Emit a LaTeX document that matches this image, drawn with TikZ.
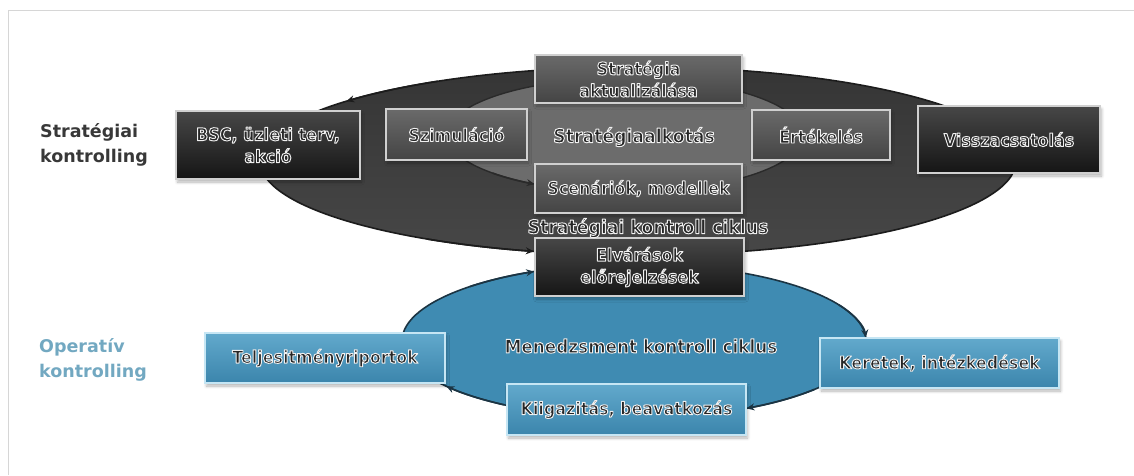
\documentclass[tikz,border=0pt]{standalone}
\usepackage{fontspec}
\setmainfont{DejaVu Sans}
\newfontfamily\boxfont{DejaVu Sans}[FakeStretch=0.91]
\usetikzlibrary{arrows.meta,shadows.blur}

\definecolor{txt}{HTML}{262626}
\definecolor{rim}{HTML}{D0D0D0}
\definecolor{rimblue}{HTML}{C6E6F4}
\definecolor{blkT}{HTML}{474747}
\definecolor{blkB}{HTML}{151515}
\definecolor{gryT}{HTML}{6A6A6A}
\definecolor{gryB}{HTML}{444444}
\definecolor{bluT}{HTML}{62A9CC}
\definecolor{bluB}{HTML}{3B85AC}
\definecolor{outerT}{HTML}{353535}
\definecolor{outerB}{HTML}{474747}
\definecolor{outerD}{HTML}{1C1C1C}
\definecolor{innerF}{HTML}{6C6C6C}
\definecolor{innerD}{HTML}{2A2A2A}
\definecolor{blueF}{HTML}{3F8BB2}
\definecolor{blueD}{HTML}{1B3443}
\definecolor{stratlbl}{HTML}{383838}
\definecolor{operlbl}{HTML}{72A8C1}
\definecolor{framec}{HTML}{D6D6D6}

% dark lettering with a light rim: glyphs are filled, then stroked in near-white
\newcommand\hl[1]{\special{pdf:code q 0.94 0.94 0.94 RG 0.95 w 1 j 2 Tr}#1\special{pdf:code 0 Tr Q}}

\begin{document}
\begin{tikzpicture}[x=1pt,y=-1pt,
  boxtext/.style={font=\boxfont\bfseries\fontsize{17.5}{22}\selectfont, text=txt, align=center, inner sep=0pt},
  panel/.style={rectangle, line width=1.3pt, boxtext,
    blur shadow={shadow xshift=1.5pt, shadow yshift=-3pt, shadow opacity=30, shadow blur steps=6, shadow blur radius=3pt}},
  blackbox/.style={panel, draw=rim, top color=blkT, bottom color=blkB},
  greybox/.style={panel, draw=rim, top color=gryT, bottom color=gryB},
  bluebox/.style={panel, draw=rimblue, top color=bluT, bottom color=bluB},
  cyclabel/.style={font=\boxfont\bfseries\fontsize{19}{22}\selectfont, text=txt, inner sep=0pt},
  sidelabel/.style={font=\bfseries\fontsize{17.5}{25.5}\selectfont, align=left, anchor=west, inner sep=0pt},
  cyc/.style={draw=#1, line width=1.6pt, -{Stealth[length=8pt,width=7pt]}}
]
\useasboundingbox (0,0) rectangle (1134,475);

% page frame
\draw[framec, line width=1pt] (8,475) -- (8,10) -- (1134,10);

% cycle centres
\coordinate (oc) at (638,161);
\coordinate (ic) at (625,135);
\coordinate (bc) at (634,341);

% strategic cycle: outer and inner ring
\draw[outerD, line width=1.6pt, top color=outerT, bottom color=outerB]
  (oc) ellipse [x radius=378pt, y radius=94pt];
\draw[innerD, line width=1.4pt, fill=innerF]
  (ic) ellipse [x radius=178pt, y radius=57pt];
% management cycle
\draw[blueD, line width=1.6pt, fill=blueF]
  (bc) ellipse [x radius=232pt, y radius=77pt];

% direction of the strategic cycle
\draw[cyc=outerD] (oc) ++(122:378pt and 94pt) arc[start angle=122, end angle=140.5, x radius=378pt, y radius=94pt];
\draw[cyc=outerD] (oc) ++(236:378pt and 94pt) arc[start angle=236, end angle=254, x radius=378pt, y radius=94pt];
\draw[cyc=innerD] (ic) ++(222:178pt and 57pt) arc[start angle=222, end angle=239.5, x radius=178pt, y radius=57pt];
% direction of the management cycle
\draw[cyc=blueD] (bc) ++(135:232pt and 77pt) arc[start angle=135, end angle=115.5, x radius=232pt, y radius=77pt];
\draw[cyc=blueD] (bc) ++(28:232pt and 77pt) arc[start angle=28, end angle=2.5, x radius=232pt, y radius=77pt];
\draw[cyc=blueD] (bc) ++(321:232pt and 77pt) arc[start angle=321, end angle=299, x radius=232pt, y radius=77pt];
\draw[cyc=blueD] (bc) ++(236:232pt and 77pt) arc[start angle=236, end angle=216, x radius=232pt, y radius=77pt];

% strategic boxes
\node[blackbox, minimum width=184pt, minimum height=68pt] (bsc) at (268,145) {\hl{BSC, üzleti terv,}\\\hl{akció}};
\node[greybox, minimum width=141pt, minimum height=51pt] (szim) at (456.5,134.5) {\hl{Szimuláció}};
\node[greybox, minimum width=207pt, minimum height=48pt] (aktual) at (638.5,79) {\hl{Stratégia}\\\hl{aktualizálása}};
\node[greybox, minimum width=207pt, minimum height=49pt] (scen) at (638.5,188.5) {\hl{Scenáriók, modellek}};
\node[greybox, minimum width=138pt, minimum height=50pt] (ert) at (821,135) {\hl{Értékelés}};
\node[blackbox, minimum width=182pt, minimum height=67pt] (vissza) at (1009,139.5) {\hl{Visszacsatolás}};
\node[blackbox, minimum width=209pt, minimum height=58pt] (elvar) at (639.5,267) {\hl{Elvárások}\\\hl{előrejelzések}};

% operative boxes
\node[bluebox, minimum width=240pt, minimum height=50pt] (telj) at (325,358) {\hl{Teljesitményriportok}};
\node[bluebox, minimum width=239pt, minimum height=51pt] (kiig) at (626.5,409.5) {\hl{Kiigazitás, beavatkozás}};
\node[bluebox, minimum width=239pt, minimum height=50pt] (keret) at (939.5,363) {\hl{Keretek, intézkedések}};

% cycle names
\node[cyclabel] (alkot) at (634,137) {\hl{Stratégiaalkotás}};
\node[cyclabel] (skc) at (648,228) {\hl{Stratégiai kontroll ciklus}};
\node[cyclabel, font=\boxfont\bfseries\fontsize{18.5}{22}\selectfont] (mkc) at (641,346) {\hl{Menedzsment kontroll ciklus}};

% level names
\node[sidelabel, text=stratlbl] (strat) at (40,145) {Stratégiai\\kontrolling};
\node[sidelabel, text=operlbl] (oper) at (39,360) {Operatív\\kontrolling};
\end{tikzpicture}
\end{document}
